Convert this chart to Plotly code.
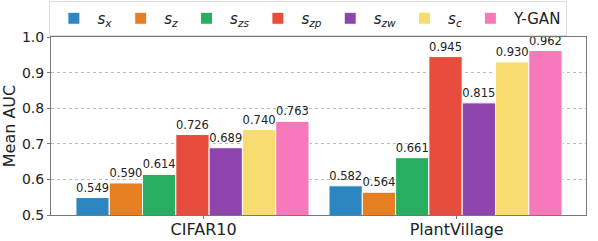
import plotly.graph_objects as go

categories = ["CIFAR10", "PlantVillage"]
series_names = ["<i>s</i><sub><i>x</i></sub>", "<i>s</i><sub><i>z</i></sub>",
                "<i>s</i><sub><i>zs</i></sub>", "<i>s</i><sub><i>zp</i></sub>",
                "<i>s</i><sub><i>zw</i></sub>", "<i>s</i><sub><i>c</i></sub>", "Y-GAN"]
s_x = [0.549, 0.582]
s_z = [0.590, 0.564]
s_zs = [0.614, 0.661]
s_zp = [0.726, 0.945]
s_zw = [0.689, 0.815]
s_c = [0.740, 0.930]
y_gan = [0.763, 0.962]
series_values = [s_x, s_z, s_zs, s_zp, s_zw, s_c, y_gan]
colors = ["#2e86c1", "#e67e22", "#27ae60", "#e74c3c", "#8e44ad", "#f7dc6f", "#f879bb"]
y_ticks = [0.5, 0.6, 0.7, 0.8, 0.9, 1.0]

FONT = "DejaVu Sans"
x_pos = list(range(len(categories)))

fig = go.Figure()
for name, vals, col in zip(series_names, series_values, colors):
    fig.add_trace(go.Bar(
        x=x_pos, y=vals, name=name,
        marker=dict(color=col, line=dict(color="white", width=1)),
        text=[f"{v:.3f}" for v in vals], textposition="outside",
        textfont=dict(family=FONT, size=11.5, color="#222"),
        constraintext="none", cliponaxis=False,
    ))

axis_line = "#777"
fig.update_layout(
    width=598, height=241,
    margin=dict(l=51, r=12, t=37, b=26, autoexpand=False),
    paper_bgcolor="white", plot_bgcolor="white",
    barmode="group", bargap=0.079, bargroupgap=0,
    font=dict(family=FONT, size=14, color="#222"),
    showlegend=True,
    legend=dict(orientation="h", x=-0.003, xanchor="left", y=1.202, yanchor="top",
                font=dict(family=FONT, size=15, color="#222"),
                bordercolor="#dddddd", borderwidth=1, bgcolor="white",
                itemwidth=37, traceorder="normal"),
    xaxis=dict(range=[-0.559, 1.555], tickmode="array", automargin=False,
               tickvals=[p + 0.044 for p in x_pos], ticktext=categories,
               tickfont=dict(family=FONT, size=16, color="#222"),
               ticks="outside", ticklen=3, tickcolor=axis_line,
               ticklabelstandoff=-3,
               showline=True, linecolor=axis_line, linewidth=1, mirror=True,
               showgrid=False, zeroline=False),
    yaxis=dict(range=[0.5, 1.0], tickmode="array", tickvals=y_ticks, automargin=False,
               ticktext=[f"{t:.1f}" for t in y_ticks],
               tickfont=dict(family=FONT, size=14, color="#222"),
               ticks="outside", ticklen=3, tickcolor=axis_line,
               showline=True, linecolor=axis_line, linewidth=1, mirror=True,
               showgrid=True, gridcolor="#bbbbbb", griddash="dot", gridwidth=1,
               zeroline=False,
               title=dict(text="Mean AUC", font=dict(family=FONT, size=16, color="#222"),
                          standoff=6)),
)

fig.write_html("out.html", config={"displayModeBar": False},
               post_script="document.body.style.margin='0';")
